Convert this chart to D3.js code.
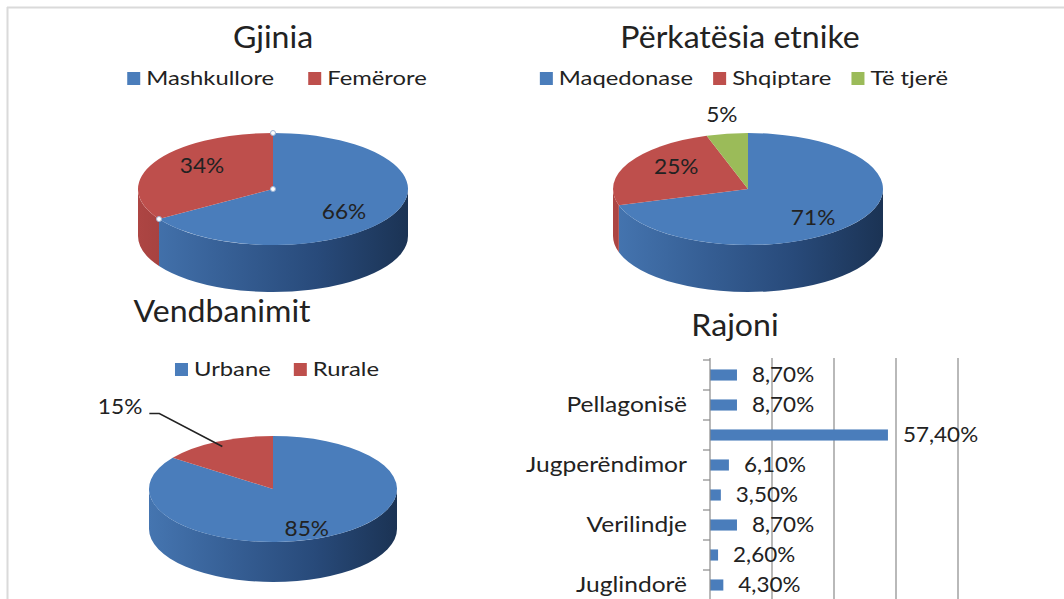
<!DOCTYPE html>
<html>
<head>
<meta charset="utf-8">
<script src="https://cdn.jsdelivr.net/npm/d3@7"></script>
<style>
  body { margin: 0; background: #fff; }
  text { font-family: Lato, "Open Sans", sans-serif; fill: #222; }
</style>
</head>
<body>
<svg id="chart"></svg>
<script>
// ---- data ----
const genderLabels = ["Mashkullore", "Femërore"];
const genderValues = [66, 34];

const ethnicLabels = ["Maqedonase", "Shqiptare", "Të tjerë"];
const ethnicValues = [71, 25, 5];

const settlementLabels = ["Urbane", "Rurale"];
const settlementValues = [85, 15];

// only every second category name is printed on the axis
const regionLabels = ["", "Pellagonisë", "", "Jugperëndimor", "", "Verilindje", "", "Juglindorë"];
const regionValues = [8.7, 8.7, 57.4, 6.1, 3.5, 8.7, 2.6, 4.3];
const regionTicks = [20, 40, 60, 80];

// ---- setup ----
const W = 1064, H = 599;
const svg = d3.select("#chart").attr("width", W).attr("height", H);
const defs = svg.append("defs");

const topColors = {blue: "#4a7dbb", red: "#be4f4c", green: "#9bbb59"};
const sideColors = {
  blue: ["#4575b0", "#365f95", "#284a7a", "#1b3354"],
  red: ["#ad4543", "#963a38", "#7e2e2c", "#622221"],
  green: ["#86a24b", "#71893e", "#5b6e32", "#455325"]
};

// the source picture is a bit wider than it is tall, so text gets a horizontal stretch
function stretch(sel, sx) {
  sel.each(function() {
    let t = d3.select(this);
    let x = +t.attr("x") || 0, y = +t.attr("y") || 0;
    t.attr("x", 0).attr("y", 0).attr("transform", `translate(${x},${y}) scale(${sx},1)`);
  });
}

// frame lines (top and left)
svg.append("line").attr("x1", 7).attr("x2", W).attr("y1", 7.5).attr("y2", 7.5)
  .attr("stroke", "#dadada").attr("stroke-width", 2);
svg.append("line").attr("x1", 7.5).attr("x2", 7.5).attr("y1", 7).attr("y2", H)
  .attr("stroke", "#dadada").attr("stroke-width", 2);

function title(txt, x, y) {
  svg.append("text").attr("x", x).attr("y", y).attr("text-anchor", "middle")
    .attr("font-size", 30).text(txt)
    .call(stretch, 1.07);
}

function legend(labels, colors, cx, y, gap) {
  let sx = 1.19;
  let items = svg.append("g").attr("class", "legend");
  let x = 0;
  labels.forEach((l, i) => {
    items.append("rect").attr("x", x).attr("y", y - 13).attr("width", 13).attr("height", 13)
      .attr("fill", topColors[colors[i]]);
    let t = items.append("text").attr("x", x + 19).attr("y", y).attr("font-size", 20).text(l);
    let w = t.node().getComputedTextLength() * sx;
    t.call(stretch, sx);
    x += 19 + w + gap;
  });
  items.attr("transform", `translate(${cx - (x - gap) / 2},0)`);
}

function pie3d(id, values, colors, o) {
  let g = svg.append("g").attr("id", id);
  let arcs = d3.pie().sort(null).value(d => d)(values);
  let pt = (a, f = 1) => [o.cx + o.rx * f * Math.sin(a), o.cy - o.ry * f * Math.cos(a)];

  // side shading
  colors.forEach(c => {
    let grad = defs.append("linearGradient").attr("id", `${id}-${c}`)
      .attr("gradientUnits", "userSpaceOnUse")
      .attr("x1", o.cx - o.rx).attr("x2", o.cx + o.rx).attr("y1", 0).attr("y2", 0);
    sideColors[c].forEach((s, k) => grad.append("stop")
      .attr("offset", k / (sideColors[c].length - 1)).attr("stop-color", s));
  });

  // front walls
  arcs.forEach((d, i) => {
    let s0 = Math.max(d.startAngle, Math.PI / 2), s1 = Math.min(d.endAngle, 3 * Math.PI / 2);
    if (s1 <= s0) return;
    let [x0, y0] = pt(s0), [x1, y1] = pt(s1);
    g.append("path")
      .attr("d", `M${x0},${y0}A${o.rx},${o.ry} 0 0 1 ${x1},${y1}L${x1},${y1 + o.depth}` +
                 `A${o.rx},${o.ry} 0 0 0 ${x0},${y0 + o.depth}Z`)
      .attr("fill", `url(#${id}-${colors[i]})`);
  });

  // top faces
  arcs.forEach((d, i) => {
    let [x0, y0] = pt(d.startAngle), [x1, y1] = pt(d.endAngle);
    let large = d.endAngle - d.startAngle > Math.PI ? 1 : 0;
    g.append("path")
      .attr("d", `M${o.cx},${o.cy}L${x0},${y0}A${o.rx},${o.ry} 0 ${large} 1 ${x1},${y1}Z`)
      .attr("fill", topColors[colors[i]]);
  });

  // labels
  arcs.forEach((d, i) => {
    let mid = (d.startAngle + d.endAngle) / 2;
    let txt = d.data + "%";
    let t;
    if (o.callout === i) {
      let [ex, ey] = pt(mid, 0.9);
      let bx = ex - 63, by = ey - 33;
      g.append("polyline").attr("points", `${bx - 10},${by} ${bx},${by} ${ex},${ey}`)
        .attr("fill", "none").attr("stroke", "#222").attr("stroke-width", 1.5);
      t = g.append("text").attr("x", bx - 17).attr("y", by + 1).attr("text-anchor", "end");
    } else if (d.data < 10) {
      let x = o.cx + 1.25 * o.rx * Math.sin(mid), y = o.cy - 1.35 * o.ry * Math.cos(mid);
      t = g.append("text").attr("x", x).attr("y", y).attr("dy", "0.35em").attr("text-anchor", "middle");
    } else {
      let x = o.cx + 0.6 * o.rx * Math.sin(mid), y = o.cy - 0.85 * o.ry * Math.cos(mid);
      t = g.append("text").attr("x", x).attr("y", y).attr("dy", "0.35em").attr("text-anchor", "middle");
    }
    t.attr("font-size", 21).text(txt).call(stretch, 1.08);
  });

  // selection handles (visible on the first chart)
  if (o.handles) {
    let pts = [[o.cx, o.cy], pt(0), pt(arcs[1].startAngle)];
    g.selectAll(".handle").data(pts).join("circle").attr("class", "handle")
      .attr("cx", p => p[0]).attr("cy", p => p[1]).attr("r", 2.5)
      .attr("fill", "#fff").attr("stroke", "#9db3d3").attr("stroke-width", 1);
  }
}

// ---- Gjinia ----
title("Gjinia", 273, 48);
legend(genderLabels, ["blue", "red"], 277, 85, 34);
pie3d("gender", genderValues, ["blue", "red"],
  {cx: 273, cy: 189, rx: 135, ry: 56, depth: 47, handles: true});

// ---- Përkatësia etnike ----
title("Përkatësia etnike", 740, 48);
legend(ethnicLabels, ["blue", "red", "green"], 744, 85, 20);
pie3d("ethnic", ethnicValues, ["blue", "red", "green"],
  {cx: 748, cy: 189, rx: 135, ry: 56, depth: 47});

// ---- Vendbanimit ----
title("Vendbanimit", 222, 322);
legend(settlementLabels, ["blue", "red"], 277, 376, 23);
pie3d("settlement", settlementValues, ["blue", "red"],
  {cx: 273, cy: 489, rx: 124, ry: 53, depth: 40, callout: 1});

// ---- Rajoni ----
title("Rajoni", 735, 336);

let bar = {top: 358, bottom: 600, left: 710, right: 958};
let xScale = d3.scaleLinear().domain([0, 80]).range([bar.left, bar.right]);
let yScale = d3.scaleBand().domain(d3.range(regionValues.length))
  .range([360, 600]).paddingInner(0.63).paddingOuter(0.315);

let rg = svg.append("g").attr("id", "region");

rg.selectAll(".grid").data(regionTicks).join("line").attr("class", "grid")
  .attr("x1", d => xScale(d)).attr("x2", d => xScale(d))
  .attr("y1", bar.top).attr("y2", bar.bottom)
  .attr("stroke", "#8a8a8a").attr("stroke-width", 1.2);

rg.selectAll(".bar").data(regionValues).join("rect").attr("class", "bar")
  .attr("x", xScale(0))
  .attr("y", (d, i) => yScale(i))
  .attr("width", d => xScale(d) - xScale(0))
  .attr("height", yScale.bandwidth())
  .attr("fill", "#4a7dbb");

// category axis: line, ticks between categories, names
let gapHalf = (yScale.step() - yScale.bandwidth()) / 2;
let bounds = d3.range(regionValues.length).map(i => yScale(i) - gapHalf).concat([bar.bottom]);
rg.append("line").attr("x1", bar.left).attr("x2", bar.left)
  .attr("y1", bar.top).attr("y2", bar.bottom).attr("stroke", "#8a8a8a").attr("stroke-width", 1.2);
rg.selectAll(".tick-mark").data(bounds).join("line").attr("class", "tick-mark")
  .attr("x1", bar.left - 7).attr("x2", bar.left).attr("y1", d => d).attr("y2", d => d)
  .attr("stroke", "#8a8a8a").attr("stroke-width", 1.2);

let yAxis = rg.append("g").attr("transform", `translate(${bar.left},0)`)
  .call(d3.axisLeft(yScale).tickSize(0).tickPadding(23).tickFormat(i => regionLabels[i]));
yAxis.select(".domain").remove();
yAxis.selectAll("text").attr("font-size", 21).attr("fill", "#222")
  .style("font-family", "Lato, 'Open Sans', sans-serif")
  .attr("dy", "0.35em")
  .call(stretch, 1.17);

let fmt = v => d3.format(".2f")(v).replace(".", ",") + "%";
rg.selectAll(".value").data(regionValues).join("text").attr("class", "value")
  .attr("x", d => xScale(d) + 15)
  .attr("y", (d, i) => yScale(i) + yScale.bandwidth() / 2)
  .attr("dy", "0.35em").attr("font-size", 21)
  .text(d => fmt(d))
  .call(stretch, 1.07);
</script>
</body>
</html>
